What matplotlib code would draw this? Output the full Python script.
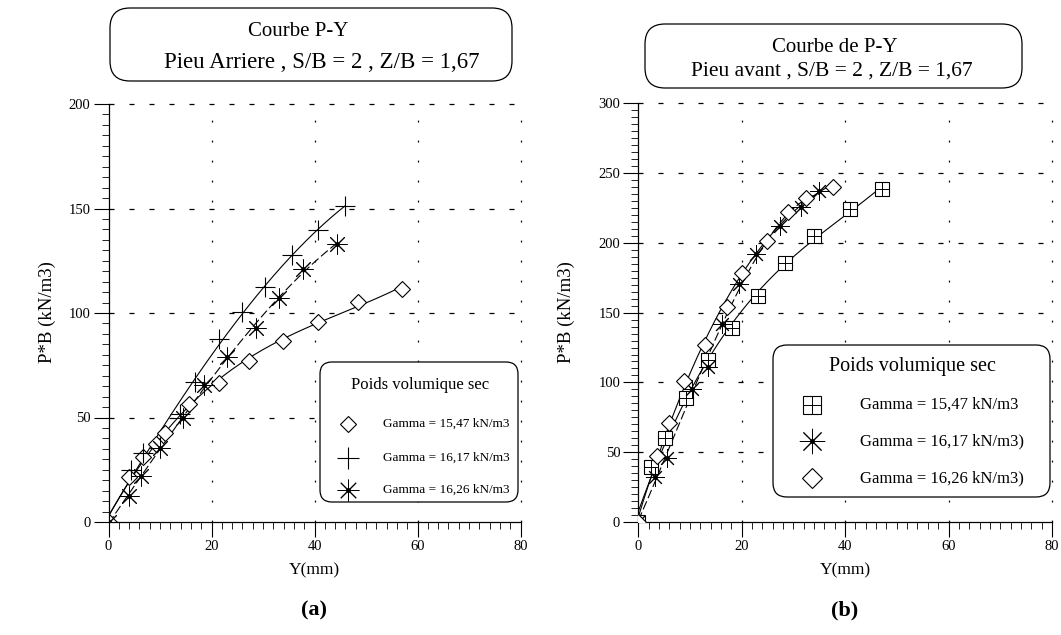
import matplotlib

matplotlib.use("Agg")
import matplotlib.pyplot as plt
import numpy as np
from matplotlib.lines import Line2D
from matplotlib.patches import FancyBboxPatch
from matplotlib.transforms import IdentityTransform

plt.rcParams["font.family"] = ["Liberation Serif", "DejaVu Serif"]

# (a) pieu arriere : Y (mm) / P*B (kN/m3)
a_y_1547 = [0, 4.0, 6.7, 9.3, 11.0, 15.7, 21.5, 27.3, 33.8, 40.6, 48.4, 56.9]
a_p_1547 = [0, 21.5, 31.0, 37.5, 42.8, 56.6, 66.7, 77.0, 86.8, 95.9, 105.4, 111.3]
a_y_1617 = [0, 4.3, 6.7, 13.8, 16.7, 21.5, 25.9, 30.4, 35.6, 40.7, 45.9]
a_p_1617 = [0, 24.7, 33.2, 51.5, 67.1, 87.4, 100.6, 112.6, 127.8, 139.7, 151.2]
a_y_1626 = [0, 4.0, 6.4, 10.0, 14.5, 18.6, 23.1, 28.6, 33.1, 37.8, 44.3]
a_p_1626 = [0, 12.5, 21.8, 35.4, 50.0, 65.6, 79.1, 93.0, 107.0, 120.9, 132.9]

# (b) pieu avant
b_y_1547 = [0, 2.5, 5.2, 9.2, 13.5, 18.1, 23.2, 28.4, 34.0, 40.9, 47.1]
b_p_1547 = [0, 39.2, 60.0, 88.6, 116.0, 138.7, 162.1, 185.3, 204.9, 224.2, 238.5]
b_y_1617 = [0, 3.2, 5.5, 10.3, 13.5, 16.2, 19.5, 22.7, 27.4, 31.5, 35.0]
b_p_1617 = [0, 32.0, 46.1, 95.3, 111.3, 141.8, 170.5, 192.0, 212.0, 226.0, 237.0]
b_y_1626 = [0, 3.6, 5.9, 8.9, 12.9, 17.1, 20.0, 24.8, 29.0, 32.5, 37.7]
b_p_1626 = [0, 47.5, 70.7, 101.2, 126.8, 153.8, 178.1, 201.5, 222.0, 232.0, 240.0]

a_labels = ["Gamma = 15,47 kN/m3", "Gamma = 16,17 kN/m3", "Gamma = 16,26 kN/m3"]
b_labels = ["Gamma = 15,47 kN/m3", "Gamma = 16,17 kN/m3)", "Gamma = 16,26 kN/m3)"]

STAR = (8, 2, 0)
W, H = 1061, 635


def marker_styles(kind, size):
    """List of Line2D keyword sets that together draw one symbol."""
    if kind == "diamond":
        return [dict(marker="D", ms=size * 0.72, mfc="white", mec="k", mew=0.8)]
    if kind == "plus":
        return [dict(marker="+", ms=size * 1.3, mec="k", mew=0.8)]
    if kind == "star":
        return [dict(marker=STAR, ms=size * 1.3, mec="k", mew=0.7),
                dict(marker="o", ms=2.5, mfc="k", mec="k")]
    return [dict(marker="s", ms=size, mfc="white", mec="k", mew=0.8),
            dict(marker="+", ms=size, mec="k", mew=0.7)]


def fit_curve(ax, x, y, ls, deg=3):
    coef = np.polyfit(x, y, deg)
    xs = np.linspace(0, max(x), 200)
    ax.plot(xs, np.polyval(coef, xs), color="k", lw=0.8, ls=ls)


def draw_points(ax, x, y, kind, size):
    for st in marker_styles(kind, size):
        ax.plot(x, y, ls="none", zorder=3, **st)


def style_axes(ax, ymax, ystep):
    ax.set_xlim(0, 80)
    ax.set_ylim(0, ymax)
    ax.set_xticks(np.arange(0, 81, 20))
    ax.set_xticks(np.arange(0, 81, 2), minor=True)
    ax.set_yticks(np.arange(0, ymax + 1, ystep))
    ax.set_yticks(np.arange(0, ymax + 1, 5), minor=True)
    for side in ("top", "right"):
        ax.spines[side].set_visible(False)
    for side in ("left", "bottom"):
        ax.spines[side].set_linewidth(0.9)
    ax.tick_params(which="major", length=11, width=0.8, labelsize=10.5, pad=2)
    ax.tick_params(which="minor", length=5, width=0.6)
    for xv in np.arange(20, 81, 20):
        ax.axvline(xv, color="k", lw=0.9, ls=(0, (1.5, 14.5)), clip_on=False, zorder=1)
    for yv in np.arange(ystep, ymax + 1, ystep):
        ax.axhline(yv, color="k", lw=0.9, ls=(0, (4, 12)), clip_on=False, zorder=1)


def round_box(fig, x0, y0, x1, y1, radius):
    box = FancyBboxPatch(
        (x0, H - y1), x1 - x0, y1 - y0,
        boxstyle=f"round,pad=0,rounding_size={radius}",
        transform=IdentityTransform(), fc="white", ec="k", lw=0.9,
    )
    fig.add_artist(box)


def ftext(fig, x, y, s, **kw):
    fig.text(x / W, 1 - y / H, s, va="center", **kw)


def fmarker(fig, x, y, kind, size):
    for st in marker_styles(kind, size):
        fig.add_artist(Line2D([x / W], [1 - y / H], ls="none", transform=fig.transFigure, **st))


fig = plt.figure(figsize=(10.61, 6.35), dpi=100)

ax_a = fig.add_axes([108.5 / W, 1 - 522 / H, 412 / W, 418 / H])
ax_b = fig.add_axes([638.3 / W, 1 - 522 / H, 413.6 / W, 418.7 / H])

# --- (a)
fit_curve(ax_a, a_y_1547, a_p_1547, "-")
fit_curve(ax_a, a_y_1617, a_p_1617, "-")
fit_curve(ax_a, a_y_1626, a_p_1626, (0, (8, 3)))
draw_points(ax_a, a_y_1547, a_p_1547, "diamond", 11)
draw_points(ax_a, a_y_1617, a_p_1617, "plus", 11)
draw_points(ax_a, a_y_1626, a_p_1626, "star", 11)
style_axes(ax_a, 200, 50)

# --- (b)
fit_curve(ax_b, b_y_1547, b_p_1547, "-")
fit_curve(ax_b, b_y_1617, b_p_1617, (0, (8, 3)))
fit_curve(ax_b, b_y_1626, b_p_1626, "-")
draw_points(ax_b, b_y_1547, b_p_1547, "square", 10)
draw_points(ax_b, b_y_1617, b_p_1617, "star", 10)
draw_points(ax_b, b_y_1626, b_p_1626, "diamond", 11)
style_axes(ax_b, 300, 50)

# legend (a)
round_box(fig, 320, 362, 518, 502, 12)
ftext(fig, 420, 385, "Poids volumique sec", ha="center", fontsize=12)
for yy, kind, lab in zip((424, 458, 490), ("diamond", "plus", "star"), a_labels):
    fmarker(fig, 348, yy, kind, 12)
    ftext(fig, 383, yy, lab, ha="left", fontsize=9.5)

# legend (b)
round_box(fig, 773, 345, 1050, 497, 14)
ftext(fig, 912, 366, "Poids volumique sec", ha="center", fontsize=14.5)
for yy, kind, lab in zip((405, 441, 478), ("square", "star", "diamond"), b_labels):
    fmarker(fig, 812, yy, kind, 13 if kind == "square" else 14)
    ftext(fig, 860, yy, lab, ha="left", fontsize=12)

# titles
round_box(fig, 110, 8, 512, 81, 20)
ftext(fig, 298, 31, "Courbe P-Y", ha="center", fontsize=15)
ftext(fig, 322, 62, "Pieu Arriere , S/B = 2 , Z/B = 1,67", ha="center", fontsize=16.5)
round_box(fig, 645, 24, 1022, 88, 20)
ftext(fig, 835, 47, "Courbe de P-Y", ha="center", fontsize=15)
ftext(fig, 832, 71, "Pieu avant , S/B = 2 , Z/B = 1,67", ha="center", fontsize=15.5)

# axis labels
for cx, tag in ((314.5, "(a)"), (845, "(b)")):
    ftext(fig, cx, 570, "Y(mm)", ha="center", fontsize=12.5)
    ftext(fig, cx, 610, tag, ha="center", fontsize=16, fontweight="bold")
ftext(fig, 47, 312, "P*B (kN/m3)", rotation=90, ha="center", fontsize=13.5)
ftext(fig, 566, 312, "P*B (kN/m3)", rotation=90, ha="center", fontsize=13.5)

fig.savefig("out.png", dpi=100)
plt.close(fig)
